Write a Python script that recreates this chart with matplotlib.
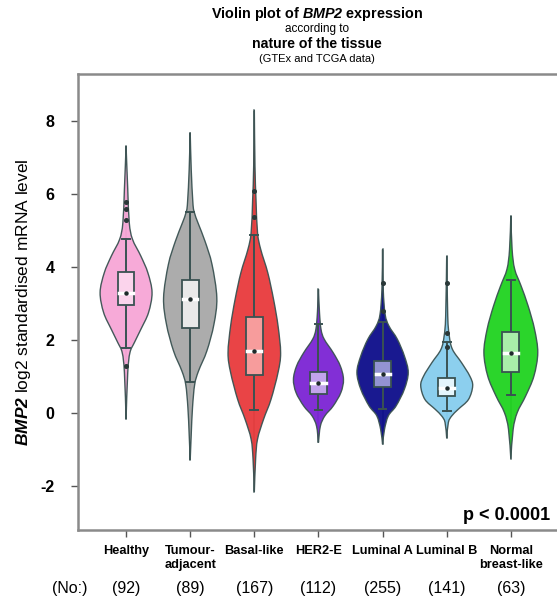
import matplotlib
matplotlib.use('Agg')
import matplotlib.pyplot as plt
from matplotlib.path import Path
from matplotlib.patches import PathPatch
import numpy as np

plt.rcParams['font.family'] = 'Liberation Sans'
plt.rcParams['mathtext.fontset'] = 'custom'
plt.rcParams['mathtext.rm'] = 'Liberation Sans'
plt.rcParams['mathtext.bf'] = 'Liberation Sans:bold'
plt.rcParams['mathtext.it'] = 'Liberation Sans:italic'
plt.rcParams['mathtext.bfit'] = 'Liberation Sans:bold:italic'

groups = ['Healthy', 'Tumour-\nadjacent', 'Basal-like', 'HER2-E',
          'Luminal A', 'Luminal B', 'Normal\nbreast-like']
counts = [92, 89, 167, 112, 255, 141, 63]

# violin outline: levels (log2) and half widths
prof_y = [
    [7.32, 6.14, 5.22, 4.77, 4.31, 3.85, 3.31, 2.76, 2.30, 1.94, 1.66, 1.12, -0.16],
    [7.69, 6.68, 5.82, 5.53, 5.18, 4.72, 4.08, 3.17, 2.44, 1.71, 1.16, 0.79, 0.16, -0.58, -1.28],
    [8.30, 6.78, 5.86, 4.95, 4.49, 3.85, 3.12, 2.39, 1.65, 1.12, 0.38, -0.16, -0.71, -1.26, -2.15],
    [3.40, 2.76, 2.30, 2.03, 1.66, 1.30, 0.93, 0.57, 0.20, -0.07, -0.35, -0.80],
    [4.49, 3.40, 2.71, 2.39, 2.03, 1.57, 1.12, 0.66, 0.20, -0.07, -0.44, -0.85],
    [4.31, 2.67, 2.12, 1.75, 1.39, 1.02, 0.75, 0.38, 0.11, -0.07, -0.25, -0.68],
    [5.41, 4.49, 3.95, 3.49, 2.94, 2.30, 1.66, 1.02, 0.47, 0.02, -0.44, -1.25],
]
prof_w = [
    [0.0, 0.026, 0.05, 0.10, 0.23, 0.34, 0.405, 0.35, 0.23, 0.13, 0.06, 0.026, 0.0],
    [0.0, 0.016, 0.04, 0.06, 0.13, 0.23, 0.34, 0.415, 0.37, 0.26, 0.13, 0.07, 0.036, 0.016, 0.0],
    [0.0, 0.01, 0.026, 0.05, 0.10, 0.21, 0.30, 0.37, 0.41, 0.37, 0.26, 0.145, 0.05, 0.02, 0.0],
    [0.0, 0.016, 0.04, 0.09, 0.23, 0.34, 0.39, 0.35, 0.23, 0.10, 0.03, 0.0],
    [0.0, 0.01, 0.04, 0.10, 0.23, 0.34, 0.40, 0.34, 0.21, 0.09, 0.03, 0.0],
    [0.0, 0.016, 0.04, 0.09, 0.23, 0.36, 0.405, 0.34, 0.18, 0.08, 0.026, 0.0],
    [0.0, 0.02, 0.06, 0.16, 0.27, 0.37, 0.42, 0.36, 0.23, 0.10, 0.036, 0.0],
]

q1 = [2.96, 2.33, 1.04, 0.52, 0.72, 0.47, 1.13]
median = [3.29, 3.12, 1.70, 0.82, 1.08, 0.70, 1.64]
q3 = [3.86, 3.65, 2.63, 1.12, 1.43, 0.96, 2.23]
whisk_lo = [1.78, 0.86, 0.08, 0.10, 0.11, 0.06, 0.49]
whisk_hi = [4.79, 5.53, 4.90, 2.45, 2.49, 1.94, 3.65]
outliers = [[5.8, 5.6, 5.3, 1.29], [], [6.09, 5.37], [], [3.57, 2.8], [3.58, 2.21, 1.81], []]

violin_colors = ['#f7a6d6', '#a8a8a8', '#e83a3c', '#7b24d4', '#0c0c8a', '#86cdee', '#1fd31f']
box_colors = ['#fbd4ec', '#e9e9e9', '#f79c9c', '#c2a4ec', '#9393d2', '#e4f5fc', '#a9eea9']
edge = '#3a5252'


def violin_path(xc, ys, ws):
    # catmull-rom style cubic curve through the read points, mirrored for the left side
    p = np.column_stack([ws, ys]).astype(float)
    n = len(p)
    segs = []
    for k in range(n - 1):
        p0, p1, p2, p3 = p[max(k - 1, 0)], p[k], p[k + 1], p[min(k + 2, n - 1)]
        c1 = p1 + (p2 - p0) / 6
        c2 = p2 - (p3 - p1) / 6
        c1[0] = max(c1[0], 0)
        c2[0] = max(c2[0], 0)
        segs.append((c1, c2, p2))
    verts = [(xc + p[0][0], p[0][1])]
    codes = [Path.MOVETO]
    for c1, c2, e in segs:
        verts += [(xc + c1[0], c1[1]), (xc + c2[0], c2[1]), (xc + e[0], e[1])]
        codes += [Path.CURVE4] * 3
    for k in range(n - 2, -1, -1):
        c1, c2, _ = segs[k]
        s = p[k]
        verts += [(xc - c2[0], c2[1]), (xc - c1[0], c1[1]), (xc - s[0], s[1])]
        codes += [Path.CURVE4] * 3
    return Path(verts, codes)


fig = plt.figure(figsize=(5.57, 6.04), dpi=100)
ax = fig.add_axes([0.140, 0.1225, 0.86, 0.755])

x = np.arange(len(groups))
for i in x:
    ys = prof_y[i]
    ws = prof_w[i]
    ax.plot([i, i], [min(ys), max(ys)], color='#6f8282', lw=1.2, zorder=1)
    ax.add_patch(PathPatch(violin_path(i, ys, ws), facecolor=violin_colors[i],
                           edgecolor=edge, lw=1.0, alpha=0.95, zorder=2))
    ax.plot([i, i], [whisk_lo[i], whisk_hi[i]], color=edge, lw=1.4, zorder=3)
    for yy in (whisk_lo[i], whisk_hi[i]):
        ax.plot([i - 0.06, i + 0.06], [yy, yy], color=edge, lw=1.4, zorder=3)
    ax.bar(i, q3[i] - q1[i], 0.26, bottom=q1[i], color=box_colors[i],
           edgecolor=edge, lw=1.3, zorder=4)
    ax.plot([i - 0.11, i + 0.11], [median[i], median[i]], color='white', lw=2.5, zorder=5)
    ax.plot([i], [median[i]], 'o', color='#1e2a2a', ms=2.2, zorder=6)
    if outliers[i]:
        ax.plot([i] * len(outliers[i]), outliers[i], 'o', color='#2a3838', ms=2.6, zorder=3)

ax.set_xlim(-0.75, 6.72)
ax.set_ylim(-3.2, 9.3)
ax.set_yticks([-2, 0, 2, 4, 6, 8])
ax.set_yticklabels(['-2', '0', '2', '4', '6', '8'], fontsize=11.5, fontweight='bold')
ax.set_xticks(x)
ax.set_xticklabels(groups, fontsize=9.2, fontweight='bold', va='top', linespacing=1.15)
ax.tick_params(axis='both', colors='#555555', labelcolor='black', length=5, width=1)
ax.tick_params(axis='y', pad=12)
ax.tick_params(axis='x', pad=6)
for s in ('left', 'bottom', 'top'):
    ax.spines[s].set_color('#8a8a8a')
    ax.spines[s].set_linewidth(1.8)
ax.spines['right'].set_visible(False)

ax.set_ylabel(r'$\mathbfit{BMP2}$ log2 standardised mRNA level', fontsize=12.5, labelpad=5)

tx = 0.5686
fig.text(tx, 1 - 14 / 604, r'Violin plot of $\mathbfit{BMP2}$ expression', ha='center', va='center',
         fontsize=10.4, fontweight='bold')
fig.text(tx, 1 - 29 / 604, 'according to', ha='center', va='center', fontsize=8.5)
fig.text(tx, 1 - 43.5 / 604, 'nature of the tissue', ha='center', va='center',
         fontsize=10.2, fontweight='bold')
fig.text(tx, 1 - 59 / 604, '(GTEx and TCGA data)', ha='center', va='center', fontsize=8)

ax.text(550 / 557, 1 - 515 / 604, 'p < 0.0001', transform=fig.transFigure, ha='right', va='center',
        fontsize=13, fontweight='bold')

ny = 1 - 589 / 604
fig.text(70 / 557, ny, '(No:)', ha='center', va='center', fontsize=11.5)
for i, n in zip(x, counts):
    xf = ax.transData.transform((i, 0))[0] / fig.bbox.width
    fig.text(xf, ny, f'({n})', ha='center', va='center', fontsize=11.5)

fig.savefig('out.png', dpi=100)
